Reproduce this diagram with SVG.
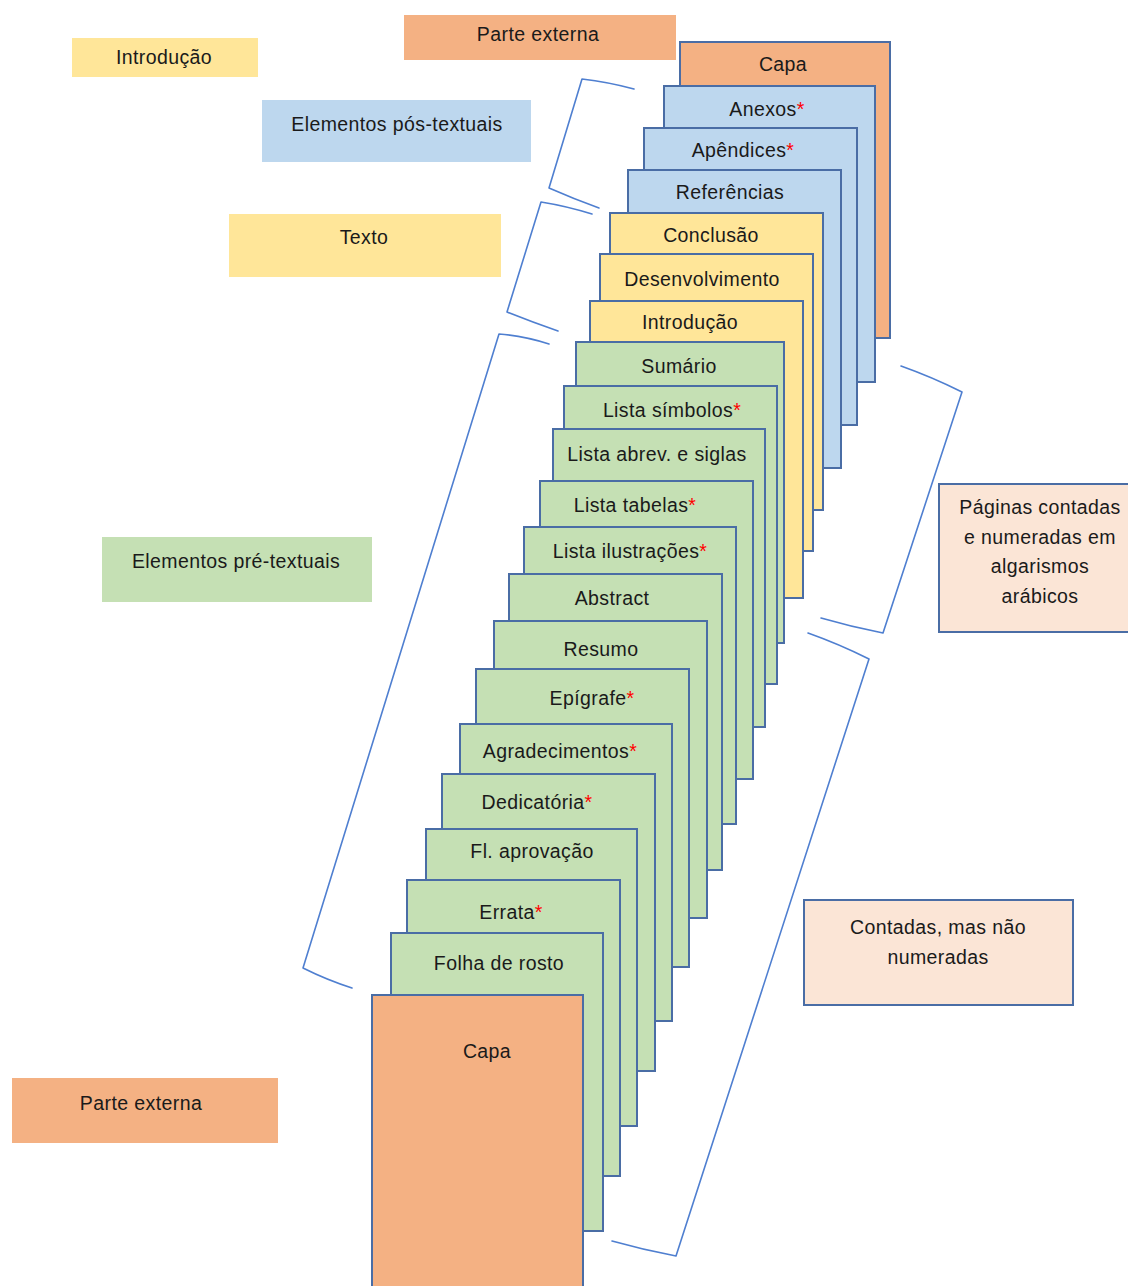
<svg xmlns="http://www.w3.org/2000/svg" width="1128" height="1286" viewBox="0 0 1128 1286">
<style>
  text { font-family: "Liberation Sans", Arial, sans-serif; font-size: 19.5px; fill: #1a1a1a; text-anchor: middle; letter-spacing: 0.4px; }
  .pg { stroke: #4A6DA5; stroke-width: 2; }
  .or { fill: #F4B183; }
  .bl { fill: #BDD7EE; }
  .ye { fill: #FFE699; }
  .gr { fill: #C5E0B4; }
  .pe { fill: #FBE5D6; stroke: #4A6DA5; stroke-width: 2; }
  .ast { fill: #FF0000; }
  .br { fill: none; stroke: #4F7FD0; stroke-width: 1.6; stroke-linejoin: round; stroke-linecap: round; }
</style>
<rect width="1128" height="1286" fill="#FFFFFF"/>

<!-- Legend labels -->
<g id="lbl-introducao"><rect class="ye" x="72" y="38" width="186" height="39"/><text x="164" y="64">Introdução</text></g>
<g id="lbl-parte-externa-top"><rect class="or" x="404" y="15" width="272" height="45"/><text x="538" y="41">Parte externa</text></g>
<g id="lbl-pos-textuais"><rect class="bl" x="262" y="100" width="269" height="62"/><text x="397" y="131">Elementos pós-textuais</text></g>
<g id="lbl-texto"><rect class="ye" x="229" y="214" width="272" height="63"/><text x="364" y="244">Texto</text></g>
<g id="lbl-pre-textuais"><rect class="gr" x="102" y="537" width="270" height="65"/><text x="236" y="568">Elementos pré-textuais</text></g>
<g id="lbl-parte-externa-bottom"><rect class="or" x="12" y="1078" width="266" height="65"/><text x="141" y="1110">Parte externa</text></g>
<g id="lbl-paginas-numeradas"><rect class="pe" x="939" y="484" width="192" height="148"/>
  <text x="1040" y="514">Páginas contadas</text>
  <text x="1040" y="544">e numeradas em</text>
  <text x="1040" y="573">algarismos</text>
  <text x="1040" y="603">arábicos</text></g>
<g id="lbl-contadas"><rect class="pe" x="804" y="900" width="269" height="105"/>
  <text x="938" y="934">Contadas, mas não</text>
  <text x="938" y="964">numeradas</text></g>

<!-- Page stack, back to front -->
<g id="pg-capa-final"><rect class="pg or" x="680" y="42" width="210" height="296"/><text x="783" y="71">Capa</text></g>
<g id="pg-anexos"><rect class="pg bl" x="664" y="86" width="211" height="296"/><text x="767" y="116">Anexos<tspan class="ast">*</tspan></text></g>
<g id="pg-apendices"><rect class="pg bl" x="644" y="128" width="213" height="297"/><text x="743" y="157">Apêndices<tspan class="ast">*</tspan></text></g>
<g id="pg-referencias"><rect class="pg bl" x="628" y="170" width="213" height="298"/><text x="730" y="199">Referências</text></g>
<g id="pg-conclusao"><rect class="pg ye" x="610" y="213" width="213" height="297"/><text x="711" y="242">Conclusão</text></g>
<g id="pg-desenvolvimento"><rect class="pg ye" x="600" y="254" width="213" height="297"/><text x="702" y="286">Desenvolvimento</text></g>
<g id="pg-introducao"><rect class="pg ye" x="590" y="301" width="213" height="297"/><text x="690" y="329">Introdução</text></g>
<g id="pg-sumario"><rect class="pg gr" x="576" y="342" width="208" height="301"/><text x="679" y="373">Sumário</text></g>
<g id="pg-lista-simbolos"><rect class="pg gr" x="564" y="386" width="213" height="298"/><text x="672" y="417">Lista símbolos<tspan class="ast">*</tspan></text></g>
<g id="pg-lista-abrev"><rect class="pg gr" x="553" y="429" width="212" height="298"/><text x="657" y="461">Lista abrev. e siglas</text></g>
<g id="pg-lista-tabelas"><rect class="pg gr" x="540" y="481" width="213" height="298"/><text x="635" y="512">Lista tabelas<tspan class="ast">*</tspan></text></g>
<g id="pg-lista-ilustracoes"><rect class="pg gr" x="524" y="527" width="212" height="297"/><text x="630" y="558">Lista ilustrações<tspan class="ast">*</tspan></text></g>
<g id="pg-abstract"><rect class="pg gr" x="509" y="574" width="213" height="296"/><text x="612" y="605">Abstract</text></g>
<g id="pg-resumo"><rect class="pg gr" x="494" y="621" width="213" height="297"/><text x="601" y="656">Resumo</text></g>
<g id="pg-epigrafe"><rect class="pg gr" x="476" y="669" width="213" height="298"/><text x="592" y="705">Epígrafe<tspan class="ast">*</tspan></text></g>
<g id="pg-agradecimentos"><rect class="pg gr" x="460" y="724" width="212" height="297"/><text x="560" y="758">Agradecimentos<tspan class="ast">*</tspan></text></g>
<g id="pg-dedicatoria"><rect class="pg gr" x="442" y="774" width="213" height="297"/><text x="537" y="809">Dedicatória<tspan class="ast">*</tspan></text></g>
<g id="pg-fl-aprovacao"><rect class="pg gr" x="426" y="829" width="211" height="297"/><text x="532" y="858">Fl. aprovação</text></g>
<g id="pg-errata"><rect class="pg gr" x="407" y="880" width="213" height="296"/><text x="511" y="919">Errata<tspan class="ast">*</tspan></text></g>
<g id="pg-folha-rosto"><rect class="pg gr" x="391" y="933" width="212" height="298"/><text x="499" y="970">Folha de rosto</text></g>
<g id="pg-capa"><rect class="pg or" x="372" y="995" width="211" height="300"/><text x="487" y="1058">Capa</text></g>

<!-- Braces -->
<g id="connectors">
  <path class="br" d="M634,89 Q608,82 582,79 L549,188 Q574,199 599,208"/>
  <path class="br" d="M592,214 Q566,206 541,202 L507,312 Q532,322 558,331"/>
  <path class="br" d="M549,344 Q524,336 499,334 L303,968 Q327,980 352,988"/>
  <path class="br" d="M901,366 Q932,377 962,392 L883,633 Q852,627 821,618"/>
  <path class="br" d="M808,633 Q839,644 869,659 L676,1256 Q644,1250 612,1241"/>
</g>
</svg>
